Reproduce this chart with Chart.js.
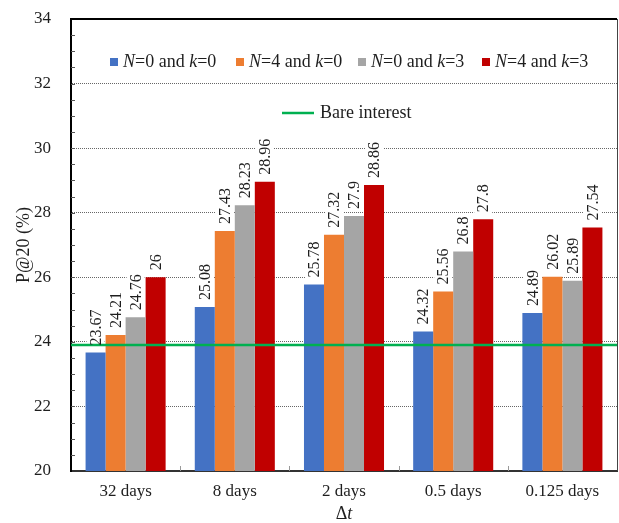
<!DOCTYPE html>
<html>
<head>
<meta charset="utf-8">
<script src="https://cdn.jsdelivr.net/npm/chart.js@4.4.1/dist/chart.umd.min.js"></script>
<style>
html,body{margin:0;padding:0;background:#fff;}
#wrap{width:619px;height:523px;position:relative;}
</style>
</head>
<body>
<div id="wrap"><canvas id="c" width="619" height="523"></canvas></div>
<script>
const categories = ['32 days', '8 days', '2 days', '0.5 days', '0.125 days'];
const n0k0 = [23.67, 25.08, 25.78, 24.32, 24.89];
const n4k0 = [24.21, 27.43, 27.32, 25.56, 26.02];
const n0k3 = [24.76, 28.23, 27.9, 26.8, 25.89];
const n4k3 = [26, 28.96, 28.86, 27.8, 27.54];
const bareInterest = 23.9;
const seriesNames = [['N', '=0 and ', 'k', '=0'], ['N', '=4 and ', 'k', '=0'], ['N', '=0 and ', 'k', '=3'], ['N', '=4 and ', 'k', '=3']];
const yTicks = [20, 22, 24, 26, 28, 30, 32, 34];

const colors = ['#4472C4', '#ED7D31', '#A5A5A5', '#C00000'];
const green = '#00B050';
const serif = '"Liberation Serif", "Times New Roman", serif';
const textColor = '#1e1e1e';

const overlay = {
  id: 'overlay',
  beforeDatasetsDraw(chart) {
    const {ctx, chartArea: a, scales: {x, y}} = chart;
    ctx.save();
    ctx.strokeStyle = '#555';
    ctx.lineWidth = 1;
    for (let v = 20.5; v < 34; v += 0.5) {
      const py = Math.round(y.getPixelForValue(v)) + 0.5;
      ctx.beginPath();
      ctx.moveTo(a.left, py);
      ctx.lineTo(a.left + 4, py);
      ctx.stroke();
    }
    ctx.strokeStyle = '#999';
    for (let i = 1; i < categories.length; i++) {
      const px = Math.round((x.getPixelForValue(i - 1) + x.getPixelForValue(i)) / 2) + 0.5;
      ctx.beginPath();
      ctx.moveTo(px, a.bottom);
      ctx.lineTo(px, a.bottom - 5);
      ctx.stroke();
    }
    ctx.restore();
  },
  afterDatasetsDraw(chart) {
    const {ctx, chartArea: a, scales: {x, y}} = chart;
    const labelFont = '16px ' + serif;
    const gap = 7;
    const items = [];
    chart.data.datasets.forEach((ds, i) => {
      const meta = chart.getDatasetMeta(i);
      meta.data.forEach((el, j) => {
        items.push({x: el.x, y: el.y, text: String(ds.data[j])});
      });
    });
    ctx.save();
    ctx.font = labelFont;
    items.forEach(it => {
      const w = ctx.measureText(it.text).width;
      ctx.save();
      ctx.translate(it.x, it.y - gap);
      ctx.rotate(-Math.PI / 2);
      ctx.fillStyle = '#fff';
      ctx.fillRect(-1, -9, w + 3, 18);
      ctx.restore();
    });
    const by = y.getPixelForValue(bareInterest);
    ctx.strokeStyle = green;
    ctx.lineWidth = 2.5;
    ctx.beginPath();
    ctx.moveTo(a.left, by);
    ctx.lineTo(a.right, by);
    ctx.stroke();
    ctx.fillStyle = textColor;
    ctx.textAlign = 'left';
    ctx.textBaseline = 'middle';
    items.forEach(it => {
      ctx.save();
      ctx.translate(it.x + 1, it.y - gap);
      ctx.rotate(-Math.PI / 2);
      ctx.fillText(it.text, 0, 0);
      ctx.restore();
    });
    ctx.strokeStyle = '#000';
    ctx.lineWidth = 2;
    ctx.beginPath();
    ctx.moveTo(a.left - 1, a.top);
    ctx.lineTo(a.right, a.top);
    ctx.stroke();
    ctx.strokeStyle = '#444';
    ctx.lineWidth = 1;
    ctx.beginPath();
    ctx.moveTo(a.right + 0.5, a.top);
    ctx.lineTo(a.right + 0.5, a.bottom);
    ctx.stroke();

    const normal = '18px ' + serif;
    const italic = 'italic 18px ' + serif;
    const legendX = [110, 236, 358, 482];
    const ly = 62;
    ctx.textBaseline = 'middle';
    seriesNames.forEach((parts, i) => {
      ctx.fillStyle = colors[i];
      ctx.fillRect(legendX[i], ly - 4, 8, 8);
      let tx = legendX[i] + 13;
      ctx.fillStyle = textColor;
      parts.forEach((p, k) => {
        ctx.font = (k % 2 === 0) ? italic : normal;
        ctx.fillText(p, tx, ly);
        tx += ctx.measureText(p).width;
      });
    });
    const l2y = 113;
    ctx.strokeStyle = green;
    ctx.lineWidth = 2.5;
    ctx.beginPath();
    ctx.moveTo(282, l2y);
    ctx.lineTo(314, l2y);
    ctx.stroke();
    ctx.font = normal;
    ctx.fillStyle = textColor;
    ctx.fillText('Bare interest', 320, l2y);

    const cx = (a.left + a.right) / 2;
    ctx.font = normal;
    const w1 = ctx.measureText('\u0394').width;
    ctx.font = italic;
    const w2 = ctx.measureText('t').width;
    const sx = cx - (w1 + w2) / 2;
    const ty = 514;
    ctx.font = normal;
    ctx.fillText('\u0394', sx, ty);
    ctx.font = italic;
    ctx.fillText('t', sx + w1, ty);
    ctx.restore();
  }
};

const datasets = [n0k0, n4k0, n0k3, n4k3].map((d, i) => ({
  label: seriesNames[i].join(''),
  data: d,
  backgroundColor: colors[i],
  borderWidth: 0,
  categoryPercentage: 0.733,
  barPercentage: 1.0
}));

new Chart(document.getElementById('c'), {
  type: 'bar',
  data: {labels: categories, datasets},
  options: {
    responsive: false,
    animation: false,
    devicePixelRatio: 1,
    layout: {padding: {top: 19, right: 2, left: 0, bottom: 0}},
    plugins: {legend: {display: false}, tooltip: {enabled: false}},
    scales: {
      x: {
        grid: {display: false, drawTicks: false},
        border: {display: true, color: '#333', width: 2},
        ticks: {color: textColor, font: {family: serif, size: 17}, padding: 10, maxRotation: 0},
        afterFit(s) { s.height = 52; s.paddingLeft = 0; s.paddingRight = 0; }
      },
      y: {
        min: 20, max: 34,
        afterBuildTicks(s) { s.ticks = yTicks.map(v => ({value: v})); },
        grid: {
          drawTicks: false,
          color: ctx => (ctx.tick && (ctx.tick.value === 20 || ctx.tick.value === 34)) ? 'rgba(0,0,0,0)' : '#666',
          lineWidth: 1
        },
        border: {display: true, color: '#000', width: 2, dash: [1, 1]},
        ticks: {color: textColor, font: {family: serif, size: 17}, padding: 20},
        title: {display: true, text: 'P@20 (%)', color: textColor, font: {family: serif, size: 18}, padding: {top: 13, bottom: 0}},
        afterFit(s) { s.width = 71; s.paddingTop = 0; s.paddingBottom = 0; }
      }
    }
  },
  plugins: [overlay]
});
</script>
</body>
</html>
